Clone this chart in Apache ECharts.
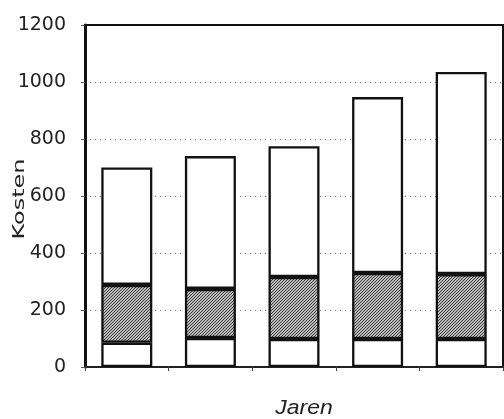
<!DOCTYPE html>
<html>
<head>
<meta charset="utf-8">
<script src="https://cdn.jsdelivr.net/npm/echarts@6/dist/echarts.min.js"></script>
<style>
  html, body { margin: 0; padding: 0; background: #fff; }
  #chart { width: 504px; height: 419px; }
</style>
</head>
<body>
<div id="chart"></div>
<script>
// Stacked cost bars per year: lower part, hatched middle part, upper part
const categories = ['1', '2', '3', '4', '5'];
const bottomCosts = [85, 102, 98, 98, 98];
const middleCosts = [203, 172, 218, 232, 228];
const upperCosts = [412, 466, 459, 617, 709];
const yTicks = [0, 200, 400, 600, 800, 1000, 1200];

// Diagonal hatch texture for the middle segment
function makeHatch() {
  const c = document.createElement('canvas');
  const s = 6;
  c.width = s; c.height = s;
  const g = c.getContext('2d');
  g.fillStyle = '#bcbcbc';
  g.fillRect(0, 0, s, s);
  g.strokeStyle = '#3c3c3c';
  g.lineWidth = 1;
  for (let x = -s; x <= s; x += 3) {
    g.beginPath();
    g.moveTo(x, s);
    g.lineTo(x + s, 0);
    g.stroke();
  }
  return c;
}

const chart = echarts.init(document.getElementById('chart'));
const border = { borderColor: '#111', borderWidth: 2.3 };
const labelFont = '"DejaVu Sans", "Liberation Sans", sans-serif';

chart.setOption({
  animation: false,
  backgroundColor: '#fff',
  grid: {
    left: 85, top: 25, width: 418, bottom: 52,
    show: true, borderColor: '#111', borderWidth: 2
  },
  xAxis: {
    type: 'category',
    data: categories,
    axisLabel: { show: false },
    axisLine: { lineStyle: { color: '#222', width: 2 } },
    axisTick: { show: true, length: 4, lineStyle: { color: '#444', width: 1 } },
    splitLine: { show: false }
  },
  yAxis: {
    type: 'value',
    min: yTicks[0],
    max: yTicks[yTicks.length - 1],
    interval: 200,
    axisLine: { show: true, lineStyle: { color: '#111', width: 3 } },
    axisTick: { show: true, length: 4, lineStyle: { color: '#555' } },
    axisLabel: {
      margin: 19,
      fontFamily: labelFont,
      fontSize: 19,
      color: '#222',
      formatter: v => String(v)
    },
    splitLine: {
      show: true,
      showMaxLine: false,
      lineStyle: { color: '#777', type: [1, 4], width: 1 }
    }
  },
  graphic: [
    {
      type: 'text',
      x: 20, y: 199,
      rotation: Math.PI / 2,
      scaleX: 1.5,
      style: {
        text: 'Kosten',
        font: '16px ' + labelFont,
        fill: '#222',
        textAlign: 'center',
        textVerticalAlign: 'middle'
      }
    },
    {
      type: 'text',
      x: 304, y: 408,
      scaleX: 1.15,
      style: {
        text: 'Jaren',
        font: 'italic 20px "Liberation Sans", Arial, sans-serif',
        fill: '#222',
        textAlign: 'center',
        textVerticalAlign: 'middle'
      }
    }
  ],
  series: [
    {
      type: 'bar', stack: 'k', barWidth: '61%',
      data: bottomCosts,
      itemStyle: Object.assign({ color: '#fff' }, border)
    },
    {
      type: 'bar', stack: 'k',
      data: middleCosts,
      itemStyle: Object.assign({ color: { image: makeHatch(), repeat: 'repeat' } }, border)
    },
    {
      type: 'bar', stack: 'k',
      data: upperCosts,
      itemStyle: Object.assign({ color: '#fff' }, border)
    }
  ]
});
</script>
</body>
</html>
